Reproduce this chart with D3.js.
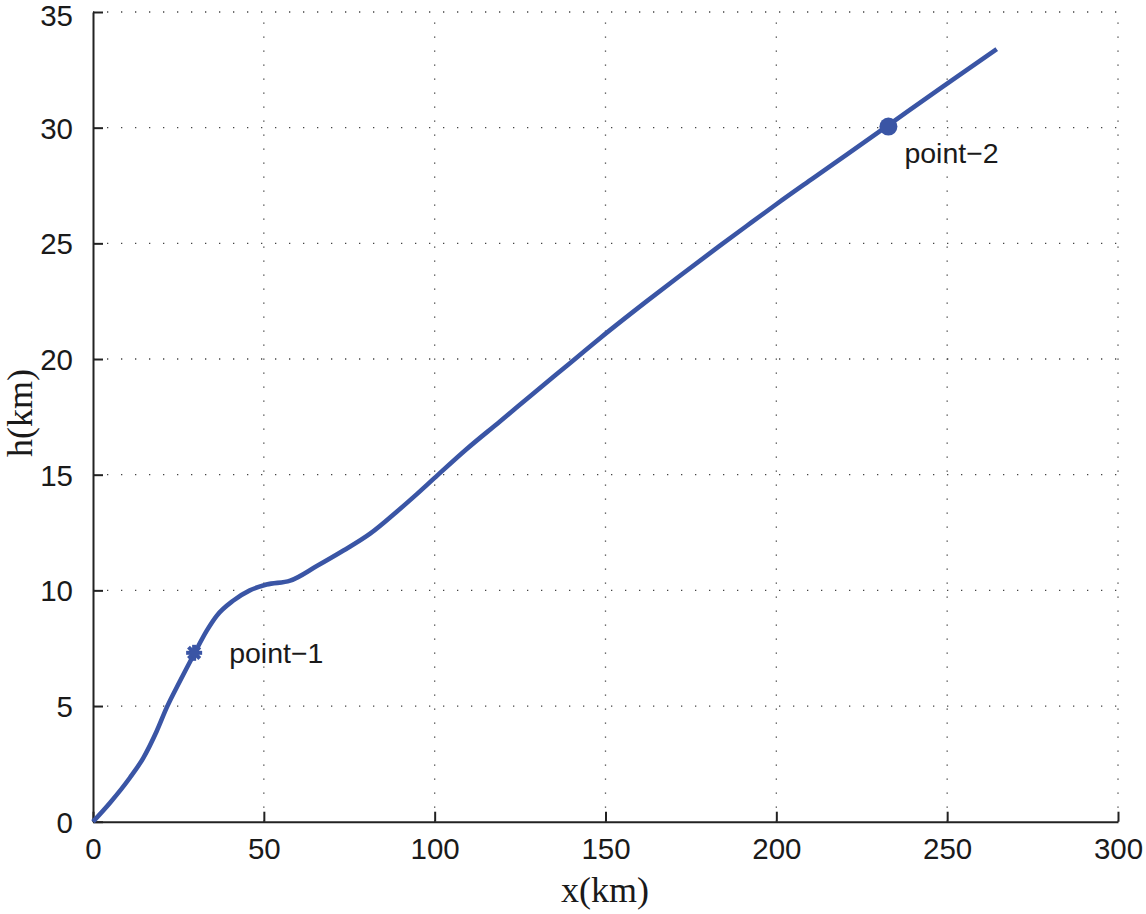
<!DOCTYPE html>
<html><head><meta charset="utf-8">
<script src="https://cdn.jsdelivr.net/npm/d3@7"></script>
<style>body{margin:0;background:#fff;}svg{display:block;}</style>
</head><body>
<script>
const xValues = [0, 5.0, 10.8, 14.7, 18.6, 21.6, 25.5, 29.6, 33.3, 36.2, 41.1, 45.9, 50.8, 57.7, 65.5, 73.3, 81.1, 88.9, 94.7, 99.9, 109.3, 119.1, 128.8, 138.6, 148.4, 162.1, 171.8, 183.5, 191.3, 200.1, 210.8, 220.6, 232.3, 248, 264.5];
const hValues = [0, 0.82, 1.9, 2.75, 3.9, 4.94, 6.09, 7.25, 8.26, 8.9, 9.56, 10.0, 10.25, 10.42, 11.05, 11.72, 12.45, 13.4, 14.15, 14.85, 16.1, 17.3, 18.5, 19.7, 20.9, 22.5, 23.6, 24.9, 25.75, 26.7, 27.82, 28.84, 30.06, 31.7, 33.4];
const pointNames = ["point\u22121", "point\u22122"];
const pointX = [29.6, 232.8];
const pointH = [7.3, 30.05];
const xTicks = [0, 50, 100, 150, 200, 250, 300];
const yTicks = [0, 5, 10, 15, 20, 25, 30, 35];

const W = 1146, H = 914;
const m = {left: 93, right: 28, top: 12, bottom: 93};
const svg = d3.select("body").append("svg").attr("width", W).attr("height", H);
const x = d3.scaleLinear().domain([0, 300]).range([m.left, W - m.right]);
const y = d3.scaleLinear().domain([0, 35]).range([H - m.bottom + 0.7, m.top]);
const lineColor = "#3a55a5";
const tickFont = "'Liberation Sans', Arial, Helvetica, sans-serif";
const serif = "'Liberation Serif', 'Times New Roman', serif";

// grid
const grid = svg.append("g");
xTicks.filter(d => d > 0).forEach(t => {
  grid.append("line").attr("x1", x(t)).attr("x2", x(t)).attr("y1", y(0)).attr("y2", y(35))
    .attr("stroke", "#444").attr("stroke-width", 1.3).attr("stroke-dasharray", "1.3,12.7");
});
yTicks.filter(d => d > 0).forEach(t => {
  grid.append("line").attr("x1", x(0)).attr("x2", x(300)).attr("y1", y(t)).attr("y2", y(t))
    .attr("stroke", "#444").attr("stroke-width", 1.3).attr("stroke-dasharray", "1.3,12.7");
});

// axes
const xAxis = d3.axisBottom(x).tickValues(xTicks).tickSizeInner(-10).tickSizeOuter(0).tickPadding(16);
const yAxis = d3.axisLeft(y).tickValues(yTicks).tickSizeInner(-10).tickSizeOuter(0).tickPadding(20);
const gx = svg.append("g").attr("transform", `translate(0,${y(0)})`).call(xAxis);
const gy = svg.append("g").attr("transform", `translate(${x(0)},0)`).call(yAxis);
[gx, gy].forEach(g => {
  g.select(".domain").attr("stroke", "#222").attr("stroke-width", 2);
  g.selectAll(".tick line").attr("stroke", "#222").attr("stroke-width", 2);
  g.selectAll(".tick text").attr("fill", "#1a1a1a").style("font-family", tickFont).style("font-size", "29.5px");
});
gx.selectAll(".tick text").attr("dy", "0.71em");
gy.selectAll(".tick text").attr("dy", "0.36em");
gy.selectAll(".tick").filter(d => d === 35).select("text").attr("dy", "0.46em");

// curve
const data = xValues.map((v, i) => [v, hValues[i]]);
svg.append("path").datum(data)
  .attr("fill", "none").attr("stroke", lineColor).attr("stroke-width", 4.6)
  .attr("stroke-linejoin", "round").attr("stroke-linecap", "butt")
  .attr("d", d3.line().x(d => x(d[0])).y(d => y(d[1])).curve(d3.curveMonotoneX));

// point-1 asterisk marker
const p1 = svg.append("g").attr("transform", `translate(${x(pointX[0])},${y(pointH[0])})`);
[0, 45, 90, 135].forEach(a => {
  p1.append("line").attr("x1", -8).attr("x2", 8).attr("y1", 0).attr("y2", 0)
    .attr("transform", `rotate(${a})`).attr("stroke", lineColor).attr("stroke-width", 4);
});
p1.append("circle").attr("r", 4.5).attr("fill", lineColor);

// point-2 filled circle
svg.append("circle").attr("cx", x(pointX[1])).attr("cy", y(pointH[1])).attr("r", 9).attr("fill", lineColor);

// labels
svg.append("text").attr("x", x(pointX[0]) + 35).attr("y", y(pointH[0]) + 10)
  .style("font-family", tickFont).style("font-size", "28.5px").attr("fill", "#1a1a1a").text(pointNames[0]);
svg.append("text").attr("x", x(pointX[1]) + 16).attr("y", y(pointH[1]) + 36)
  .style("font-family", tickFont).style("font-size", "28.5px").attr("fill", "#1a1a1a").text(pointNames[1]);

// axis titles
svg.append("text").attr("x", 605).attr("y", 902).attr("text-anchor", "middle")
  .style("font-family", serif).style("font-size", "36px").attr("fill", "#1a1a1a").text("x(km)");
svg.append("text").attr("transform", "translate(32,413) rotate(-90)").attr("text-anchor", "middle")
  .style("font-family", serif).style("font-size", "36px").attr("fill", "#1a1a1a").text("h(km)");
</script>
</body></html>
